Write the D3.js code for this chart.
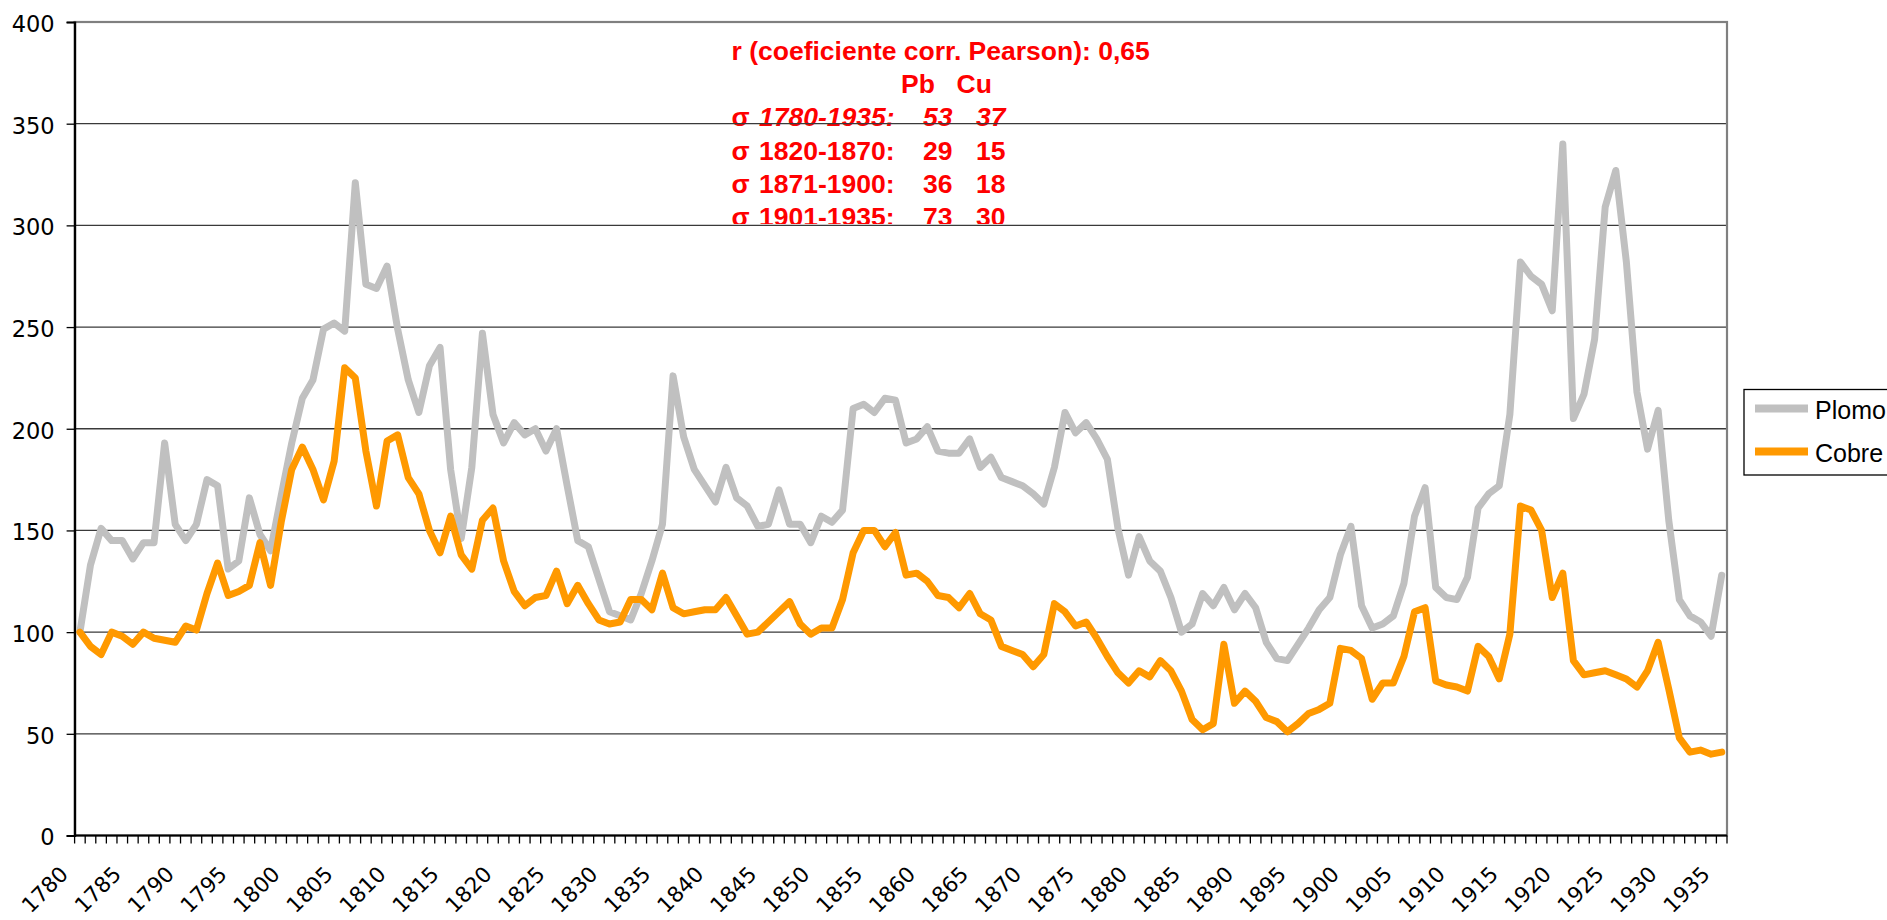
<!DOCTYPE html>
<html><head><meta charset="utf-8">
<script src="https://cdn.jsdelivr.net/npm/d3@7"></script>
<style>html,body{margin:0;padding:0;background:#fff;overflow:hidden}</style>
</head><body>
<svg id="chart" width="1887" height="920"></svg>
<script>
// ---- DATA ----
const years = [1780,1781,1782,1783,1784,1785,1786,1787,1788,1789,1790,1791,1792,1793,1794,1795,1796,1797,1798,1799,
1800,1801,1802,1803,1804,1805,1806,1807,1808,1809,1810,1811,1812,1813,1814,1815,1816,1817,1818,1819,
1820,1821,1822,1823,1824,1825,1826,1827,1828,1829,1830,1831,1832,1833,1834,1835,1836,1837,1838,1839,
1840,1841,1842,1843,1844,1845,1846,1847,1848,1849,1850,1851,1852,1853,1854,1855,1856,1857,1858,1859,
1860,1861,1862,1863,1864,1865,1866,1867,1868,1869,1870,1871,1872,1873,1874,1875,1876,1877,1878,1879,
1880,1881,1882,1883,1884,1885,1886,1887,1888,1889,1890,1891,1892,1893,1894,1895,1896,1897,1898,1899,
1900,1901,1902,1903,1904,1905,1906,1907,1908,1909,1910,1911,1912,1913,1914,1915,1916,1917,1918,1919,
1920,1921,1922,1923,1924,1925,1926,1927,1928,1929,1930,1931,1932,1933,1934,1935];

const plomo = [100,133,151,145,145,136,144,144,193,153,145,153,175,172,131,135,166,148,140,167,
193,215,224,249,252,248,321,271,269,280,249,224,208,231,240,180,146,181,247,207,
193,203,197,200,189,200,172,145,142,126,110,108,106,119,135,153,226,196,180,172,
164,181,166,162,152,153,170,153,153,144,157,154,160,210,212,208,215,214,193,195,
201,189,188,188,195,181,186,176,174,172,168,163,181,208,198,203,195,185,151,128,
147,135,130,117,100,104,119,113,122,111,119,112,95,87,86,94,102,111,117,138,
152,113,102,104,108,124,157,171,122,117,116,127,161,168,172,207,282,275,271,258,
340,205,217,244,309,327,282,218,190,209,155,116,108,105,98,128];

const cobre = [100,93,89,100,98,94,100,97,96,95,103,101,119,134,118,120,123,144,123,154,
180,191,180,165,184,230,225,189,162,194,197,176,168,150,139,157,138,131,155,161,
135,120,113,117,118,130,114,123,114,106,104,105,116,116,111,129,112,109,110,111,
111,117,108,99,100,105,110,115,104,99,102,102,116,139,150,150,142,149,128,129,
125,118,117,112,119,109,106,93,91,89,83,89,114,110,103,105,97,88,80,75,
81,78,86,81,71,57,52,55,94,65,71,66,58,56,51,55,60,62,65,92,
91,87,67,75,75,88,110,112,76,74,73,71,93,88,77,99,162,160,150,117,
129,86,79,80,81,79,77,73,81,95,72,48,41,42,40,41];

const yTicks = [0,50,100,150,200,250,300,350,400];
const xTickLabels = [1780,1785,1790,1795,1800,1805,1810,1815,1820,1825,1830,1835,1840,1845,1850,1855,
1860,1865,1870,1875,1880,1885,1890,1895,1900,1905,1910,1915,1920,1925,1930,1935];
const seriesNames = ["Plomo","Cobre"];
const seriesColors = ["#C0C0C0","#FF9900"];

const noteTitle = "r (coeficiente corr. Pearson): 0,65";
const noteHeader = ["Pb","Cu"];
const notePeriods = ["1780-1935:","1820-1870:","1871-1900:","1901-1935:"];
const notePb = ["53","29","36","73"];
const noteCu = ["37","15","18","30"];

// ---- LAYOUT ----
const L = 74.6, R = 1727, T = 22, B = 835.5;
const svg = d3.select("#chart");
const font = "'Liberation Sans', Arial, sans-serif";
const axisFont = "'DejaVu Sans', Verdana, sans-serif";

const x = d3.scaleBand().domain(years).range([L, R]).padding(0);
const cx = d => x(d) + x.bandwidth() / 2;
const y = d3.scaleLinear().domain([0, 400]).range([B, T]);

svg.append("rect").attr("x",0).attr("y",0).attr("width",1887).attr("height",920).attr("fill","#fff");

// red annotation (clipped at the 300 gridline)
svg.append("clipPath").attr("id","noteClip").append("rect")
  .attr("x",0).attr("y",0).attr("width",1887).attr("height", y(300) - 1.5);
const note = svg.append("g").attr("clip-path","url(#noteClip)")
  .attr("fill","#FF0000").style("font-family",font).style("font-weight","bold").style("font-size","26.5px");
note.append("text").attr("x",731.5).attr("y",59.5).text(noteTitle);
note.append("text").attr("x",901).attr("y",92.8).text(noteHeader[0]);
note.append("text").attr("x",956.5).attr("y",92.8).text(noteHeader[1]);
notePeriods.forEach((p,i) => {
  const by = 126.1 + i*33.4;
  const it = i === 0 ? "italic" : "normal";
  note.append("text").attr("x",731.5).attr("y",by).text("σ");
  note.append("text").attr("x",759).attr("y",by).style("font-style",it).text(p);
  note.append("text").attr("x",923).attr("y",by).style("font-style",it).text(notePb[i]);
  note.append("text").attr("x",976).attr("y",by).style("font-style",it).text(noteCu[i]);
});

// gridlines
svg.append("g").selectAll("line").data(yTicks.filter(t => t > 0 && t < 400)).join("line")
  .attr("x1",L).attr("x2",R).attr("y1",d=>y(d)).attr("y2",d=>y(d))
  .attr("stroke","#3a3a3a").attr("stroke-width",1.3);

// plot border
svg.append("rect").attr("x",L).attr("y",T).attr("width",R-L).attr("height",B-T)
  .attr("fill","none").attr("stroke","#808080").attr("stroke-width",2.2);

// y axis
const yAxis = svg.append("g").attr("transform",`translate(${L},0)`)
  .call(d3.axisLeft(y).tickValues(yTicks).tickSize(8).tickPadding(12).tickFormat(d3.format("d")));
yAxis.select(".domain").attr("stroke","#000").attr("stroke-width",2.2);
yAxis.selectAll(".tick line").attr("stroke","#000").attr("stroke-width",1.3);
yAxis.selectAll(".tick text").attr("dy","0.42em").style("font-family",axisFont).style("font-size","22.5px").attr("fill","#000");

// x axis: tick at each category boundary
const edges = years.map(d => x(d)).concat([R]);
const xAxisG = svg.append("g");
xAxisG.append("line").attr("x1",L).attr("x2",R).attr("y1",B).attr("y2",B).attr("stroke","#000").attr("stroke-width",2.2);
xAxisG.selectAll("line.tk").data(edges).join("line").attr("class","tk")
  .attr("x1",d=>d).attr("x2",d=>d).attr("y1",B).attr("y2",B+8).attr("stroke","#000").attr("stroke-width",1.3);
xAxisG.selectAll("text").data(xTickLabels).join("text")
  .attr("transform", d => `translate(${cx(d)-10.5},${B+40}) rotate(-45)`)
  .attr("text-anchor","end").style("font-family",axisFont).style("font-size","21.5px").attr("fill","#000")
  .text(d => d);

// lines
const lineGen = d3.line().x((d,i) => cx(years[i])).y(d => y(d));
[plomo, cobre].forEach((s, k) => {
  svg.append("path").datum(s).attr("d", lineGen).attr("fill","none")
    .attr("stroke", seriesColors[k]).attr("stroke-width",7)
    .attr("stroke-linejoin","round").attr("stroke-linecap","round");
});

// legend
const lg = svg.append("g");
lg.append("rect").attr("x",1744).attr("y",389.5).attr("width",160).attr("height",85.5)
  .attr("fill","#fff").attr("stroke","#000").attr("stroke-width",1.3);
seriesNames.forEach((n,k) => {
  const ly = 408.5 + k*43;
  lg.append("line").attr("x1",1755).attr("x2",1808).attr("y1",ly).attr("y2",ly)
    .attr("stroke",seriesColors[k]).attr("stroke-width",8);
  lg.append("text").attr("x",1815).attr("y",ly+10.5).style("font-family",font).style("font-size","25px")
    .attr("fill","#000").text(n);
});
</script>
</body></html>
